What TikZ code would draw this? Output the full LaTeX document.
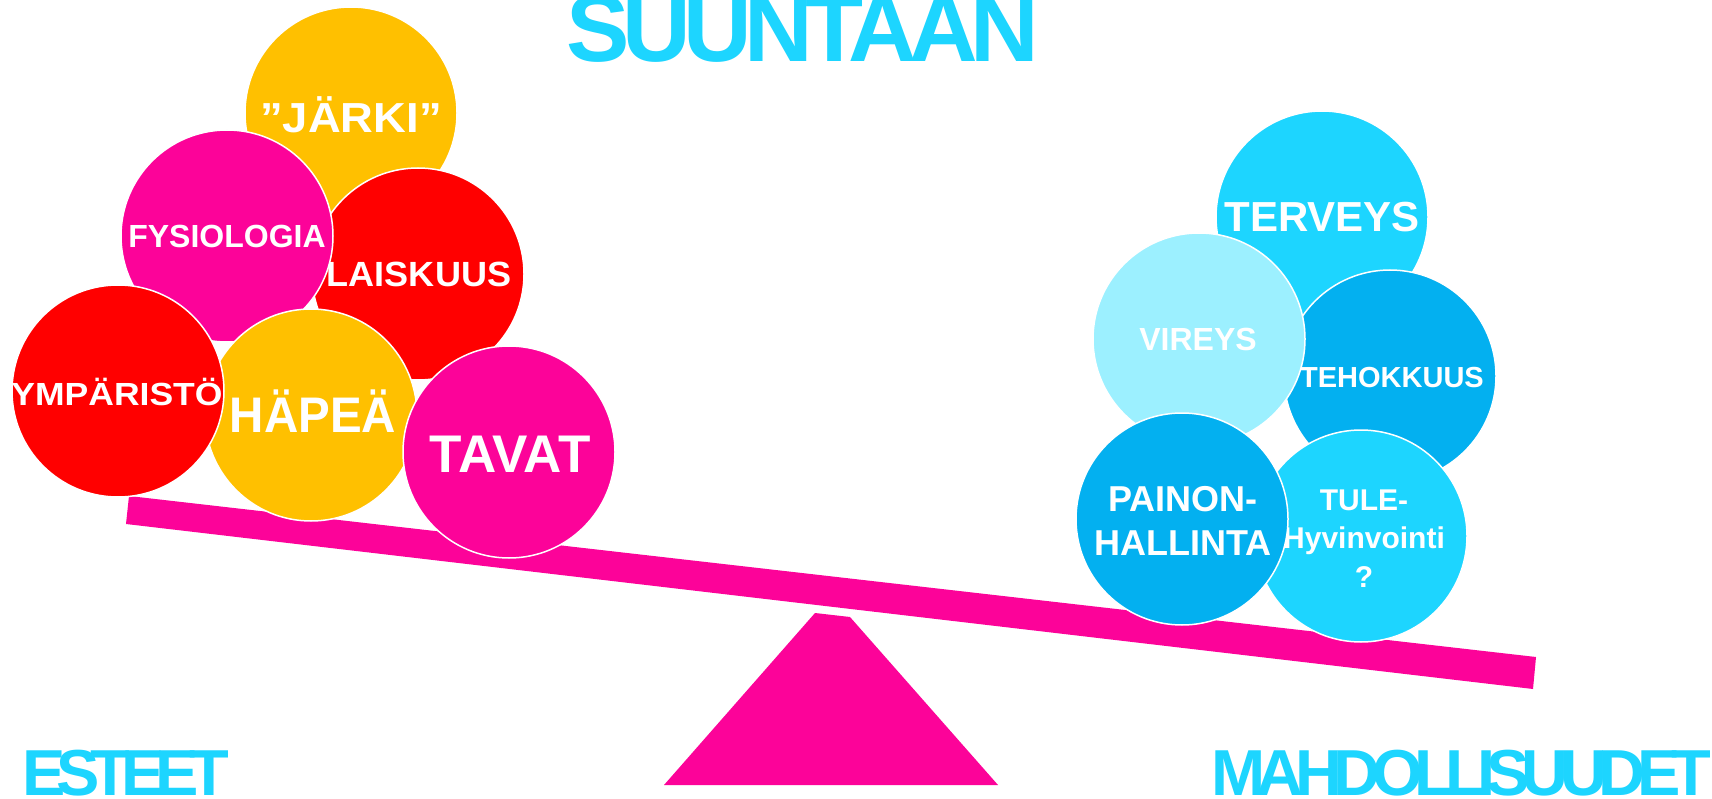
\documentclass[tikz,border=0pt]{standalone}
\usepackage{fontspec}
\setmainfont{Liberation Sans}
\definecolor{cyanT}{HTML}{1DD5FF}
\definecolor{blueT}{HTML}{03B0F0}
\definecolor{paleT}{HTML}{9CF0FF}
\definecolor{pinkT}{HTML}{FC0399}
\definecolor{yelT}{HTML}{FFC000}
\definecolor{redT}{HTML}{FF0000}
\tikzset{
  ball/.style={circle, minimum size=212pt, inner sep=0pt, draw=white, line width=1.5pt, fill=#1},
  lbl/.style={text=white, inner sep=0pt, anchor=base, align=center},
  big/.style={text=cyanT, inner sep=0pt, anchor=base west},
}
\newcommand{\fs}[2]{\fontsize{#1}{#2}\selectfont\bfseries}
\begin{document}
\begin{tikzpicture}[x=1pt,y=-1pt]
\useasboundingbox (0,0) rectangle (1712,799);
\fill[white] (0,0) rectangle (1712,799);
% beam and fulcrum
\fill[pinkT] (129,496) -- (1536,657) -- (1533,689) -- (126,524) -- cycle;
\fill[pinkT] (815,613) -- (850,617) -- (998,785) -- (664,785) -- cycle;
% left balls
\node[ball=yelT] (c-jarki) at (351,113) {};
\node[lbl, font=\fs{42}{50}, xscale=1.08] (t-jarki) at (351,133) {”JÄRKI”};
\node[ball=redT] (c-lais) at (418,274) {};
\node[lbl, font=\fs{35}{42}, xscale=1.03] (t-lais) at (419,287) {LAISKUUS};
\node[ball=pinkT] (c-fys) at (227,236) {};
\node[lbl, font=\fs{32}{38}] (t-fys) at (227,248) {FYSIOLOGIA};
\node[ball=yelT] (c-hap) at (311,415) {};
\node[lbl, font=\fs{50}{60}, xscale=0.95] (t-hap) at (313,432) {HÄPEÄ};
\node[ball=redT] (c-ymp) at (118,391) {};
\node[lbl, font=\fs{32}{38}, xscale=1.11] (t-ymp) at (117,405) {YMPÄRISTÖ};
\node[ball=pinkT] (c-tav) at (509,452) {};
\node[lbl, font=\fs{53}{64}] (t-tav) at (510,472) {TAVAT};
% right balls
\node[ball=cyanT] (c-ter) at (1322,217) {};
\node[lbl, font=\fs{42}{50}] (t-ter) at (1322,232) {TERVEYS};
\node[ball=blueT] (c-teh) at (1390,376) {};
\node[lbl, font=\fs{29}{35}] (t-teh) at (1392,387) {TEHOKKUUS};
\node[ball=paleT] (c-vir) at (1199,339) {};
\node[lbl, font=\fs{32}{38}] (t-vir) at (1198,350) {VIREYS};
\node[ball=cyanT] (c-tul) at (1361,536) {};
\node[lbl, font=\fs{30}{38.5}] (t-tul) at (1364,587) {TULE-\\Hyvinvointi\\?};
\node[ball=blueT] (c-pai) at (1182,519) {};
\node[lbl, font=\fs{36}{44}] (t-pai) at (1183,555) {PAINON-\\HALLINTA};
% headings
\node[text=cyanT, inner sep=0pt, anchor=base, font=\fs{95}{100}\addfontfeature{LetterSpace=-8}] (title) at (803,62) {SUUNTAAN};
\node[big, font=\fs{65}{70}\addfontfeature{LetterSpace=-14}] (esteet) at (22,795) {ESTEET};
\node[big, font=\fs{65}{70}\addfontfeature{LetterSpace=-13}] (mahd) at (1211,795) {MAHDOLLISUUDET};
\end{tikzpicture}
\end{document}
